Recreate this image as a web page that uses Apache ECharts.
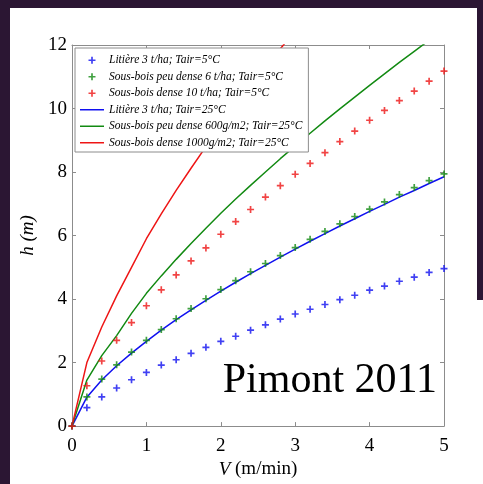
<!DOCTYPE html>
<html>
<head>
<meta charset="utf-8">
<script src="https://cdn.jsdelivr.net/npm/echarts@6/dist/echarts.min.js"></script>
<style>
  html, body { margin: 0; padding: 0; background: #2b1633; }
  #main { width: 483px; height: 484px; }
</style>
</head>
<body>
<div id="main"></div>
<script>
// vitesse V (m/min) - points tous les 0.2
var speeds = [0, 0.2, 0.4, 0.6, 0.8, 1.0, 1.2, 1.4, 1.6, 1.8, 2.0, 2.2, 2.4, 2.6, 2.8, 3.0,
              3.2, 3.4, 3.6, 3.8, 4.0, 4.2, 4.4, 4.6, 4.8, 5.0];

// Tair = 5°C (marqueurs +)
var litiere5 = [0, 0.58, 0.92, 1.2, 1.46, 1.69, 1.92, 2.09, 2.29, 2.48, 2.67, 2.83, 3.02,
                3.19, 3.37, 3.53, 3.68, 3.83, 3.98, 4.12, 4.28, 4.41, 4.56, 4.69, 4.84, 4.96];
var peuDense5 = [0, 0.92, 1.48, 1.93, 2.33, 2.70, 3.04, 3.38, 3.70, 4.01, 4.30, 4.58, 4.86,
                 5.12, 5.37, 5.62, 5.88, 6.13, 6.37, 6.60, 6.83, 7.06, 7.29, 7.51, 7.73, 7.94];
var dense5 = [0, 1.27, 2.05, 2.70, 3.26, 3.79, 4.29, 4.76, 5.20, 5.61, 6.04, 6.44, 6.82,
              7.21, 7.57, 7.93, 8.27, 8.61, 8.96, 9.29, 9.63, 9.94, 10.25, 10.55, 10.86, 11.18];

// Tair = 25°C (courbes)
var litiere25 = [0, 0.91, 1.45, 1.90, 2.30, 2.67, 3.02, 3.35, 3.66, 3.96, 4.25, 4.53, 4.80,
                 5.06, 5.32, 5.57, 5.82, 6.06, 6.30, 6.53, 6.76, 6.98, 7.21, 7.42, 7.64, 7.85];
var peuDense25 = [0, 1.45, 2.22, 2.85, 3.55, 4.18, 4.73, 5.25, 5.75, 6.23, 6.70, 7.15, 7.58,
                  8.00, 8.42, 8.82, 9.22, 9.61, 9.99, 10.36, 10.73, 11.09, 11.45, 11.80, 12.15, 12.5];
var dense25 = [0, 2.0, 3.12, 4.1, 5.0, 5.9, 6.68, 7.42, 8.12, 8.80, 9.45, 10.08, 10.70,
               11.30, 11.88, 12.45];

var legendNames = [
    'Litière 3 t/ha; Tair=5°C',
    'Sous-bois peu dense 6 t/ha; Tair=5°C',
    'Sous-bois dense 10 t/ha; Tair=5°C',
    'Litière 3 t/ha; Tair=25°C',
    'Sous-bois peu dense 600g/m2; Tair=25°C',
    'Sous-bois dense 1000g/m2; Tair=25°C'
];

var BLUE = '#1010f0', GREEN = '#128a12', RED = '#ee1515';
var SERIF = '"Liberation Serif", "DejaVu Serif", serif';
var PLUS = 'path://M3.8,0H6.2V3.8H10V6.2H6.2V10H3.8V6.2H0V3.8H3.8Z';
var DASH = 'path://M0,0H24V1.5H0Z';

function pairs(ys) {
    return ys.map(function (y, i) { return [speeds[i], y]; });
}

function markers(name, ys, color) {
    return {
        name: name,
        type: 'scatter',
        symbol: PLUS,
        symbolSize: 7,
        itemStyle: { color: color },
        data: pairs(ys),
        z: 3
    };
}

function curve(name, ys, color) {
    return {
        name: name,
        type: 'line',
        symbol: 'none',
        clip: true,
        lineStyle: { color: color, width: 1.5 },
        itemStyle: { color: color },
        data: pairs(ys),
        z: 2
    };
}

var axisLine = { show: true, onZero: false, lineStyle: { color: '#8c8c8c', width: 1 } };
var tick = { show: true, inside: true, length: 4, lineStyle: { color: '#8c8c8c' } };

var dom = document.getElementById('main');
var myChart = echarts.init(dom, null, { renderer: 'canvas' });

var option = {
    backgroundColor: '#2b1633',
    animation: false,
    graphic: [{
        type: 'rect',
        shape: { x: 10, y: 8, width: 467, height: 476 },
        style: { fill: '#ffffff' },
        z: -10
    }, {
        type: 'rect',
        shape: { x: 470, y: 300, width: 13, height: 184 },
        style: { fill: '#ffffff' },
        z: -10
    }],
    title: {
        text: 'Pimont 2011',
        right: 46,
        top: 360,
        padding: 0,
        textStyle: { fontFamily: SERIF, fontSize: 42, fontWeight: 'normal', color: '#000' }
    },
    legend: {
        orient: 'vertical',
        left: 75,
        top: 48,
        padding: [4, 6, 1, 5],
        itemWidth: 24,
        itemHeight: 7,
        itemGap: 0,
        backgroundColor: '#fff',
        borderColor: '#8c8c8c',
        borderWidth: 1,
        borderRadius: 0,
        data: legendNames.map(function (n, i) {
            return { name: n, icon: i < 3 ? PLUS : DASH };
        }),
        textStyle: {
            fontFamily: SERIF, fontStyle: 'italic', fontSize: 11.5,
            color: '#000', lineHeight: 16.5
        }
    },
    grid: { left: 72, right: 39, top: 45, bottom: 54 },
    xAxis: [{
        type: 'value', min: 0, max: 5, interval: 1,
        name: '{i|V} (m/min)', nameLocation: 'middle', nameGap: 31,
        nameTextStyle: {
            fontFamily: SERIF, fontSize: 19, color: '#000',
            rich: { i: { fontFamily: SERIF, fontSize: 19, fontStyle: 'italic', color: '#000' } }
        },
        axisLine: axisLine, axisTick: tick,
        axisLabel: { fontFamily: SERIF, fontSize: 19, color: '#000', margin: 10 },
        splitLine: { show: false }
    }, {
        type: 'value', min: 0, max: 5, interval: 1, position: 'top',
        axisLine: axisLine, axisTick: tick,
        axisLabel: { show: false }, splitLine: { show: false }
    }],
    yAxis: [{
        type: 'value', min: 0, max: 12, interval: 2,
        name: 'h (m)', nameLocation: 'middle', nameGap: 30,
        nameTextStyle: { fontFamily: SERIF, fontSize: 19, fontStyle: 'italic', color: '#000' },
        axisLine: axisLine, axisTick: tick,
        axisLabel: { fontFamily: SERIF, fontSize: 19, color: '#000', margin: 5 },
        splitLine: { show: false }
    }, {
        type: 'value', min: 0, max: 12, interval: 2, position: 'right',
        axisLine: axisLine, axisTick: tick,
        axisLabel: { show: false }, splitLine: { show: false }
    }],
    series: [
        markers(legendNames[0], litiere5, BLUE),
        markers(legendNames[1], peuDense5, GREEN),
        markers(legendNames[2], dense5, RED),
        curve(legendNames[3], litiere25, BLUE),
        curve(legendNames[4], peuDense25, GREEN),
        curve(legendNames[5], dense25, RED)
    ]
};

myChart.setOption(option);
window.addEventListener('resize', myChart.resize);
</script>
</body>
</html>
